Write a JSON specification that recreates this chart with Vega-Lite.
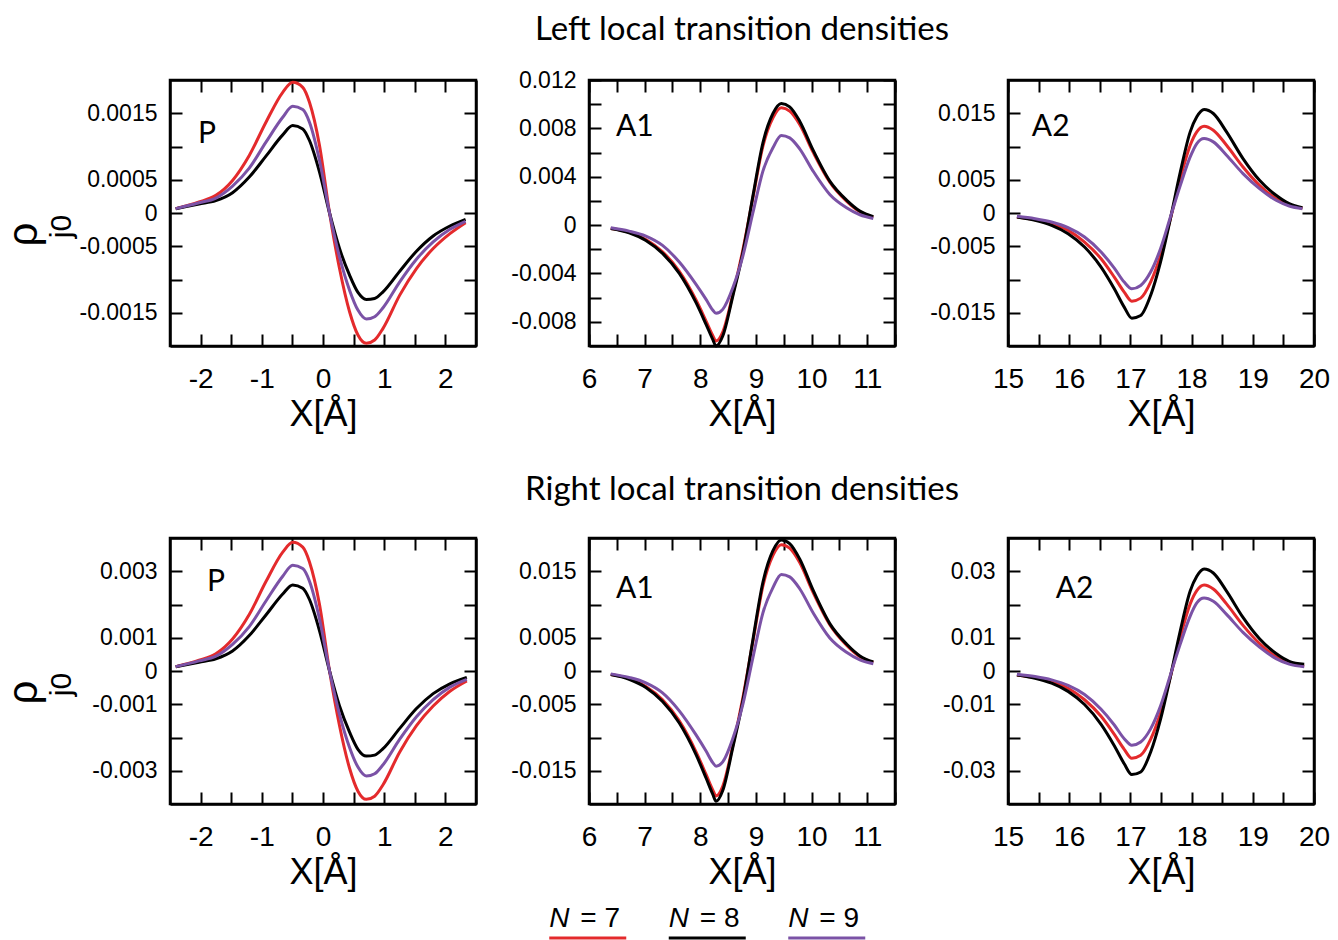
{
  "$schema": "https://vega.github.io/schema/vega-lite/v6.json",
  "background": "white",
  "padding": {"left": 0, "top": 12, "right": 0, "bottom": 0},
  "config": {
    "view": {"stroke": "black", "strokeWidth": 2.5},
    "axis": {"domainColor": "black", "domainWidth": 2.5, "tickColor": "black", "tickWidth": 2, "tickSize": -12, "grid": false,
      "labelFont": "Liberation Sans", "labelColor": "black", "titleFont": "Liberation Sans", "titleColor": "black", "titleFontWeight": "normal",
      "labelOverlap": false, "labelFlush": false, "labelBound": false},
    "axisX": {"labelFontSize": 28, "labelPadding": 31, "titleFontSize": 36, "titleBaseline": "alphabetic", "titleY": 79},
    "axisY": {"labelFontSize": 23, "labelPadding": 25},
    "line": {"interpolate": "monotone", "strokeWidth": 3}
  },
  "datasets": {
    "curves": [
      {"panel":"LP","x":-2.407,"N7":0.000065,"N8":0.000065,"N9":0.000065},
      {"panel":"LP","x":-2.025,"N7":0.000165,"N8":0.000135,"N9":0.000155},
      {"panel":"LP","x":-1.751,"N7":0.000265,"N8":0.000185,"N9":0.000225},
      {"panel":"LP","x":-1.478,"N7":0.00049,"N8":0.000305,"N9":0.000405},
      {"panel":"LP","x":-1.205,"N7":0.000865,"N8":0.00054,"N9":0.000675},
      {"panel":"LP","x":-0.932,"N7":0.001365,"N8":0.000855,"N9":0.001065},
      {"panel":"LP","x":-0.658,"N7":0.001815,"N8":0.001175,"N9":0.00144},
      {"panel":"LP","x":-0.495,"N7":0.001965,"N8":0.001315,"N9":0.001605},
      {"panel":"LP","x":-0.331,"N7":0.00189,"N8":0.001265,"N9":0.001555},
      {"panel":"LP","x":-0.221,"N7":0.001665,"N8":0.00109,"N9":0.001365},
      {"panel":"LP","x":-0.057,"N7":0.001015,"N8":0.000615,"N9":0.00079},
      {"panel":"LP","x":0.107,"N7":0,"N8":0,"N9":0},
      {"panel":"LP","x":0.27,"N7":-0.000835,"N8":-0.000535,"N9":-0.00066},
      {"panel":"LP","x":0.434,"N7":-0.001485,"N8":-0.000935,"N9":-0.00116},
      {"panel":"LP","x":0.571,"N7":-0.001835,"N8":-0.001195,"N9":-0.00146},
      {"panel":"LP","x":0.708,"N7":-0.00196,"N8":-0.0013,"N9":-0.001595},
      {"panel":"LP","x":0.844,"N7":-0.00191,"N8":-0.001285,"N9":-0.00156},
      {"panel":"LP","x":0.981,"N7":-0.001735,"N8":-0.001185,"N9":-0.001425},
      {"panel":"LP","x":1.254,"N7":-0.001235,"N8":-0.000875,"N9":-0.001035},
      {"panel":"LP","x":1.527,"N7":-0.000835,"N8":-0.000575,"N9":-0.000695},
      {"panel":"LP","x":1.8,"N7":-0.000535,"N8":-0.000345,"N9":-0.000435},
      {"panel":"LP","x":2.074,"N7":-0.00031,"N8":-0.000195,"N9":-0.000245},
      {"panel":"LP","x":2.33,"N7":-0.000145,"N8":-0.000095,"N9":-0.000125},

      {"panel":"RP","x":-2.407,"N7":0.00013,"N8":0.00013,"N9":0.00013},
      {"panel":"RP","x":-2.025,"N7":0.000325,"N8":0.000265,"N9":0.000305},
      {"panel":"RP","x":-1.751,"N7":0.00052,"N8":0.000365,"N9":0.000445},
      {"panel":"RP","x":-1.478,"N7":0.000965,"N8":0.0006,"N9":0.0008},
      {"panel":"RP","x":-1.205,"N7":0.0017,"N8":0.001065,"N9":0.001335},
      {"panel":"RP","x":-0.932,"N7":0.00269,"N8":0.001685,"N9":0.002105},
      {"panel":"RP","x":-0.658,"N7":0.003575,"N8":0.002315,"N9":0.00285},
      {"panel":"RP","x":-0.495,"N7":0.00387,"N8":0.00259,"N9":0.00318},
      {"panel":"RP","x":-0.331,"N7":0.003725,"N8":0.00249,"N9":0.00308},
      {"panel":"RP","x":-0.221,"N7":0.00328,"N8":0.00215,"N9":0.0027},
      {"panel":"RP","x":-0.057,"N7":0.002,"N8":0.00121,"N9":0.001565},
      {"panel":"RP","x":0.107,"N7":0,"N8":0,"N9":0},
      {"panel":"RP","x":0.27,"N7":-0.001645,"N8":-0.001055,"N9":-0.001305},
      {"panel":"RP","x":0.434,"N7":-0.002925,"N8":-0.00184,"N9":-0.0023},
      {"panel":"RP","x":0.571,"N7":-0.003615,"N8":-0.002355,"N9":-0.00289},
      {"panel":"RP","x":0.708,"N7":-0.00386,"N8":-0.00256,"N9":-0.00316},
      {"panel":"RP","x":0.844,"N7":-0.003765,"N8":-0.00253,"N9":-0.00309},
      {"panel":"RP","x":0.981,"N7":-0.00342,"N8":-0.002335,"N9":-0.00282},
      {"panel":"RP","x":1.254,"N7":-0.002435,"N8":-0.001725,"N9":-0.00205},
      {"panel":"RP","x":1.527,"N7":-0.001645,"N8":-0.00113,"N9":-0.001375},
      {"panel":"RP","x":1.8,"N7":-0.001055,"N8":-0.00068,"N9":-0.00086},
      {"panel":"RP","x":2.074,"N7":-0.00061,"N8":-0.000385,"N9":-0.000485},
      {"panel":"RP","x":2.35,"N7":-0.0003,"N8":-0.00019,"N9":-0.00025},

      {"panel":"LA1","x":6.391,"N7":-0.000276,"N8":-0.000276,"N9":-0.00022},
      {"panel":"LA1","x":6.721,"N7":-0.000579,"N8":-0.000634,"N9":-0.000496},
      {"panel":"LA1","x":7.022,"N7":-0.001185,"N8":-0.001267,"N9":-0.000909},
      {"panel":"LA1","x":7.322,"N7":-0.002204,"N8":-0.002342,"N9":-0.001681},
      {"panel":"LA1","x":7.623,"N7":-0.003829,"N8":-0.003995,"N9":-0.003058},
      {"panel":"LA1","x":7.924,"N7":-0.006199,"N8":-0.006419,"N9":-0.004904},
      {"panel":"LA1","x":8.104,"N7":-0.007934,"N8":-0.00821,"N9":-0.006144},
      {"panel":"LA1","x":8.224,"N7":-0.009119,"N8":-0.00945,"N9":-0.007025},
      {"panel":"LA1","x":8.284,"N7":-0.009587,"N8":-0.01,"N9":-0.007301},
      {"panel":"LA1","x":8.404,"N7":-0.008844,"N8":-0.009174,"N9":-0.00697},
      {"panel":"LA1","x":8.585,"N7":-0.00573,"N8":-0.005868,"N9":-0.00518},
      {"panel":"LA1","x":8.765,"N7":-0.002066,"N8":-0.002287,"N9":-0.002562},
      {"panel":"LA1","x":8.946,"N7":0.002259,"N8":0.002397,"N9":0.001019},
      {"panel":"LA1","x":9.126,"N7":0.006529,"N8":0.006805,"N9":0.004463},
      {"panel":"LA1","x":9.306,"N7":0.008871,"N8":0.009229,"N9":0.006392},
      {"panel":"LA1","x":9.457,"N7":0.009698,"N8":0.010056,"N9":0.007411},
      {"panel":"LA1","x":9.607,"N7":0.009422,"N8":0.00978,"N9":0.007218},
      {"panel":"LA1","x":9.787,"N7":0.00832,"N8":0.008596,"N9":0.006309},
      {"panel":"LA1","x":10.028,"N7":0.006033,"N8":0.006199,"N9":0.004463},
      {"panel":"LA1","x":10.328,"N7":0.003554,"N8":0.003637,"N9":0.002535},
      {"panel":"LA1","x":10.629,"N7":0.001984,"N8":0.002066,"N9":0.001433},
      {"panel":"LA1","x":10.869,"N7":0.001102,"N8":0.001157,"N9":0.000854},
      {"panel":"LA1","x":11.11,"N7":0.000661,"N8":0.000689,"N9":0.000551},

      {"panel":"RA1","x":6.391,"N7":-0.00054,"N8":-0.00054,"N9":-0.00043},
      {"panel":"RA1","x":6.721,"N7":-0.00113,"N8":-0.00124,"N9":-0.00097},
      {"panel":"RA1","x":7.022,"N7":-0.00232,"N8":-0.00248,"N9":-0.00178},
      {"panel":"RA1","x":7.322,"N7":-0.00432,"N8":-0.00459,"N9":-0.00329},
      {"panel":"RA1","x":7.623,"N7":-0.0075,"N8":-0.00783,"N9":-0.00599},
      {"panel":"RA1","x":7.924,"N7":-0.01215,"N8":-0.01258,"N9":-0.00961},
      {"panel":"RA1","x":8.104,"N7":-0.01555,"N8":-0.01609,"N9":-0.01204},
      {"panel":"RA1","x":8.224,"N7":-0.01787,"N8":-0.01852,"N9":-0.01377},
      {"panel":"RA1","x":8.284,"N7":-0.01879,"N8":-0.0196,"N9":-0.01431},
      {"panel":"RA1","x":8.404,"N7":-0.01733,"N8":-0.01798,"N9":-0.01366},
      {"panel":"RA1","x":8.585,"N7":-0.01123,"N8":-0.0115,"N9":-0.01015},
      {"panel":"RA1","x":8.765,"N7":-0.00405,"N8":-0.00448,"N9":-0.00502},
      {"panel":"RA1","x":8.946,"N7":0.00443,"N8":0.0047,"N9":0.002},
      {"panel":"RA1","x":9.126,"N7":0.0128,"N8":0.01334,"N9":0.00875},
      {"panel":"RA1","x":9.306,"N7":0.01739,"N8":0.01809,"N9":0.01253},
      {"panel":"RA1","x":9.457,"N7":0.019,"N8":0.01971,"N9":0.01453},
      {"panel":"RA1","x":9.607,"N7":0.01847,"N8":0.01917,"N9":0.01415},
      {"panel":"RA1","x":9.787,"N7":0.01631,"N8":0.01685,"N9":0.01237},
      {"panel":"RA1","x":10.028,"N7":0.01182,"N8":0.01215,"N9":0.00875},
      {"panel":"RA1","x":10.328,"N7":0.00697,"N8":0.00713,"N9":0.00497},
      {"panel":"RA1","x":10.629,"N7":0.00389,"N8":0.00405,"N9":0.00281},
      {"panel":"RA1","x":10.869,"N7":0.00216,"N8":0.00227,"N9":0.00167},
      {"panel":"RA1","x":11.11,"N7":0.0013,"N8":0.00135,"N9":0.00108},

      {"panel":"LA2","x":15.146,"N7":-0.000602,"N8":-0.000602,"N9":-0.000502},
      {"panel":"LA2","x":15.442,"N7":-0.001004,"N8":-0.001104,"N9":-0.000853},
      {"panel":"LA2","x":15.712,"N7":-0.001606,"N8":-0.001857,"N9":-0.001355},
      {"panel":"LA2","x":15.982,"N7":-0.00261,"N8":-0.003112,"N9":-0.002209},
      {"panel":"LA2","x":16.251,"N7":-0.004367,"N8":-0.00512,"N9":-0.003614},
      {"panel":"LA2","x":16.521,"N7":-0.006877,"N8":-0.008132,"N9":-0.005873},
      {"panel":"LA2","x":16.737,"N7":-0.009638,"N8":-0.011395,"N9":-0.008283},
      {"panel":"LA2","x":16.899,"N7":-0.011897,"N8":-0.014156,"N9":-0.010391},
      {"panel":"LA2","x":17.023,"N7":-0.013253,"N8":-0.015813,"N9":-0.011395},
      {"panel":"LA2","x":17.168,"N7":-0.012801,"N8":-0.015411,"N9":-0.010893},
      {"panel":"LA2","x":17.33,"N7":-0.010391,"N8":-0.012399,"N9":-0.008885},
      {"panel":"LA2","x":17.492,"N7":-0.006375,"N8":-0.007379,"N9":-0.005371},
      {"panel":"LA2","x":17.654,"N7":-0.000853,"N8":-0.000853,"N9":-0.000602},
      {"panel":"LA2","x":17.816,"N7":0.005171,"N8":0.006175,"N9":0.004167},
      {"panel":"LA2","x":17.977,"N7":0.010191,"N8":0.012199,"N9":0.008434},
      {"panel":"LA2","x":18.085,"N7":0.012199,"N8":0.014458,"N9":0.010442},
      {"panel":"LA2","x":18.204,"N7":0.013052,"N8":0.015562,"N9":0.011195},
      {"panel":"LA2","x":18.355,"N7":0.01245,"N8":0.01496,"N9":0.010693},
      {"panel":"LA2","x":18.571,"N7":0.010191,"N8":0.012199,"N9":0.008685},
      {"panel":"LA2","x":18.84,"N7":0.006928,"N8":0.008183,"N9":0.005924},
      {"panel":"LA2","x":19.11,"N7":0.004167,"N8":0.00492,"N9":0.003665},
      {"panel":"LA2","x":19.38,"N7":0.002159,"N8":0.002661,"N9":0.001908},
      {"panel":"LA2","x":19.595,"N7":0.001155,"N8":0.001406,"N9":0.001054},
      {"panel":"LA2","x":19.811,"N7":0.000753,"N8":0.000803,"N9":0.000653},

      {"panel":"RA2","x":15.146,"N7":-0.00119,"N8":-0.00119,"N9":-0.00098},
      {"panel":"RA2","x":15.442,"N7":-0.00199,"N8":-0.00217,"N9":-0.00167},
      {"panel":"RA2","x":15.712,"N7":-0.00318,"N8":-0.00366,"N9":-0.00266},
      {"panel":"RA2","x":15.982,"N7":-0.00517,"N8":-0.00613,"N9":-0.00433},
      {"panel":"RA2","x":16.251,"N7":-0.00865,"N8":-0.01009,"N9":-0.00708},
      {"panel":"RA2","x":16.521,"N7":-0.01362,"N8":-0.01602,"N9":-0.01151},
      {"panel":"RA2","x":16.737,"N7":-0.01908,"N8":-0.02245,"N9":-0.01623},
      {"panel":"RA2","x":16.899,"N7":-0.02356,"N8":-0.02789,"N9":-0.02037},
      {"panel":"RA2","x":17.023,"N7":-0.02624,"N8":-0.03115,"N9":-0.02233},
      {"panel":"RA2","x":17.168,"N7":-0.02535,"N8":-0.03036,"N9":-0.02135},
      {"panel":"RA2","x":17.33,"N7":-0.02057,"N8":-0.02443,"N9":-0.01741},
      {"panel":"RA2","x":17.492,"N7":-0.01262,"N8":-0.01454,"N9":-0.01053},
      {"panel":"RA2","x":17.654,"N7":-0.00169,"N8":-0.00168,"N9":-0.00118},
      {"panel":"RA2","x":17.816,"N7":0.01024,"N8":0.01216,"N9":0.00817},
      {"panel":"RA2","x":17.977,"N7":0.02018,"N8":0.02403,"N9":0.01653},
      {"panel":"RA2","x":18.085,"N7":0.02415,"N8":0.02848,"N9":0.02047},
      {"panel":"RA2","x":18.204,"N7":0.02584,"N8":0.03066,"N9":0.02194},
      {"panel":"RA2","x":18.355,"N7":0.02465,"N8":0.02947,"N9":0.02096},
      {"panel":"RA2","x":18.571,"N7":0.02018,"N8":0.02403,"N9":0.01702},
      {"panel":"RA2","x":18.84,"N7":0.01372,"N8":0.01612,"N9":0.01161},
      {"panel":"RA2","x":19.11,"N7":0.00825,"N8":0.00969,"N9":0.00718},
      {"panel":"RA2","x":19.38,"N7":0.00427,"N8":0.00524,"N9":0.00374},
      {"panel":"RA2","x":19.595,"N7":0.00229,"N8":0.0029,"N9":0.00207},
      {"panel":"RA2","x":19.84,"N7":0.00149,"N8":0.002,"N9":0.00128}
    ]
  },
  "resolve": {"scale": {"x": "independent", "y": "independent"}},
  "spacing": 13,
  "vconcat": [
    {
      "columns": 3,
      "bounds": "flush",
      "spacing": {"row": 192, "column": 113},
      "resolve": {"scale": {"x": "independent", "y": "independent"}},
      "concat": [
        {
          "width": 306, "height": 266,
          "data": {"name": "curves"},
          "transform": [{"filter": "datum.panel == 'LP'"}, {"fold": ["N7", "N8", "N9"], "as": ["N", "rho"]}],
          "layer": [
            {"mark": {"type": "line"},
             "encoding": {
               "x": {"field": "x", "type": "quantitative", "scale": {"domain": [-2.5, 2.5], "nice": false, "zero": false},
                     "axis": {"orient": "bottom", "values": [-2,-1.5,-1,-0.5,0,0.5,1,1.5,2], "labelExpr": "datum.value % 1 == 0 ? (datum.value < 0 ? '-' : '') + format(abs(datum.value), 'd') : ''", "title": "X[Å]"}},
               "y": {"field": "rho", "type": "quantitative", "scale": {"domain": [-0.002, 0.002], "nice": false, "zero": false},
                     "axis": {"orient": "left", "values": [-0.0015,-0.001,-0.0005,0,0.0005,0.001,0.0015], "labelExpr": "abs(abs(datum.value) - 0.001) < 0.00001 ? '' : (datum.value < 0 ? '-' : '') + format(abs(datum.value), '~g')",
                              "title": "ρ", "titleFontSize": 42, "titleAngle": -90, "titleAlign": "center", "titleBaseline": "alphabetic", "titleX": -134, "titleY": 154}},
               "color": {"field": "N", "type": "nominal", "scale": {"domain": ["N7", "N8", "N9"], "range": ["#e42a2c", "#000000", "#7b52a6"]}, "legend": null}
             }},
            {"mark": {"type": "line", "opacity": 0},
             "encoding": {
               "x": {"field": "x", "type": "quantitative", "scale": {"domain": [-2.5, 2.5], "nice": false, "zero": false},
                     "axis": {"orient": "top", "values": [-2,-1.5,-1,-0.5,0,0.5,1,1.5,2], "labels": false,
                              "title": "j0", "titleFontSize": 30, "titleAngle": -90, "titleAlign": "center", "titleBaseline": "alphabetic", "titleX": -100, "titleY": 146}},
               "y": {"field": "rho", "type": "quantitative", "scale": {"domain": [-0.002, 0.002], "nice": false, "zero": false},
                     "axis": {"orient": "right", "values": [-0.0015,-0.001,-0.0005,0,0.0005,0.001,0.0015], "labels": false, "title": null}}
             }},
            {"data": {"values": [{}]},
             "mark": {"type": "text", "font": "Lato", "fontSize": 30, "align": "left", "baseline": "alphabetic", "color": "black"},
             "encoding": {
               "x": {"datum": -2.042, "type": "quantitative", "axis": null},
               "y": {"datum": 0.00105, "type": "quantitative", "axis": null},
               "text": {"value": "P"}
             }}
          ],
          "resolve": {"axis": {"x": "independent", "y": "independent"}}
        },
        {
          "width": 306, "height": 266,
          "title": {"text": "Left local transition densities", "font": "Lato", "fontSize": 33, "fontWeight": "normal", "anchor": "middle", "frame": "group", "baseline": "alphabetic", "offset": -4, "color": "black"},
          "data": {"name": "curves"},
          "transform": [{"filter": "datum.panel == 'LA1'"}, {"fold": ["N7", "N8", "N9"], "as": ["N", "rho"]}],
          "layer": [
            {"mark": {"type": "line"},
             "encoding": {
               "x": {"field": "x", "type": "quantitative", "scale": {"domain": [6, 11.5], "nice": false, "zero": false},
                     "axis": {"orient": "bottom", "values": [6,6.5,7,7.5,8,8.5,9,9.5,10,10.5,11,11.5], "labelExpr": "datum.value % 1 == 0 ? (datum.value < 0 ? '-' : '') + format(abs(datum.value), 'd') : ''", "title": "X[Å]"}},
               "y": {"field": "rho", "type": "quantitative", "scale": {"domain": [-0.01, 0.012], "nice": false, "zero": false},
                     "axis": {"orient": "left", "values": [-0.008,-0.006,-0.004,-0.002,0,0.002,0.004,0.006,0.008,0.01,0.012], "labelExpr": "abs(datum.value / 0.004 - round(datum.value / 0.004)) < 0.01 ? (datum.value < 0 ? '-' : '') + format(abs(datum.value), '~g') : ''", "title": null}},
               "color": {"field": "N", "type": "nominal", "scale": {"domain": ["N7", "N8", "N9"], "range": ["#e42a2c", "#000000", "#7b52a6"]}, "legend": null}
             }},
            {"mark": {"type": "line", "opacity": 0},
             "encoding": {
               "x": {"field": "x", "type": "quantitative", "scale": {"domain": [6, 11.5], "nice": false, "zero": false},
                     "axis": {"orient": "top", "values": [6,6.5,7,7.5,8,8.5,9,9.5,10,10.5,11,11.5], "labels": false, "title": null}},
               "y": {"field": "rho", "type": "quantitative", "scale": {"domain": [-0.01, 0.012], "nice": false, "zero": false},
                     "axis": {"orient": "right", "values": [-0.008,-0.006,-0.004,-0.002,0,0.002,0.004,0.006,0.008,0.01,0.012], "labels": false, "title": null}}
             }},
            {"data": {"values": [{}]},
             "mark": {"type": "text", "font": "Lato", "fontSize": 30, "align": "left", "baseline": "alphabetic", "color": "black"},
             "encoding": {
               "x": {"datum": 6.485, "type": "quantitative", "axis": null},
               "y": {"datum": 0.00737, "type": "quantitative", "axis": null},
               "text": {"value": "A1"}
             }}
          ],
          "resolve": {"axis": {"x": "independent", "y": "independent"}}
        },
        {
          "width": 306, "height": 266,
          "data": {"name": "curves"},
          "transform": [{"filter": "datum.panel == 'LA2'"}, {"fold": ["N7", "N8", "N9"], "as": ["N", "rho"]}],
          "layer": [
            {"mark": {"type": "line"},
             "encoding": {
               "x": {"field": "x", "type": "quantitative", "scale": {"domain": [15, 20], "nice": false, "zero": false},
                     "axis": {"orient": "bottom", "values": [15,15.5,16,16.5,17,17.5,18,18.5,19,19.5,20], "labelExpr": "datum.value % 1 == 0 ? (datum.value < 0 ? '-' : '') + format(abs(datum.value), 'd') : ''", "title": "X[Å]"}},
               "y": {"field": "rho", "type": "quantitative", "scale": {"domain": [-0.02, 0.02], "nice": false, "zero": false},
                     "axis": {"orient": "left", "values": [-0.015,-0.01,-0.005,0,0.005,0.01,0.015], "labelExpr": "abs(abs(datum.value) - 0.01) < 0.0001 ? '' : (datum.value < 0 ? '-' : '') + format(abs(datum.value), '~g')", "title": null}},
               "color": {"field": "N", "type": "nominal", "scale": {"domain": ["N7", "N8", "N9"], "range": ["#e42a2c", "#000000", "#7b52a6"]}, "legend": null}
             }},
            {"mark": {"type": "line", "opacity": 0},
             "encoding": {
               "x": {"field": "x", "type": "quantitative", "scale": {"domain": [15, 20], "nice": false, "zero": false},
                     "axis": {"orient": "top", "values": [15,15.5,16,16.5,17,17.5,18,18.5,19,19.5,20], "labels": false, "title": null}},
               "y": {"field": "rho", "type": "quantitative", "scale": {"domain": [-0.02, 0.02], "nice": false, "zero": false},
                     "axis": {"orient": "right", "values": [-0.015,-0.01,-0.005,0,0.005,0.01,0.015], "labels": false, "title": null}}
             }},
            {"data": {"values": [{}]},
             "mark": {"type": "text", "font": "Lato", "fontSize": 30, "align": "left", "baseline": "alphabetic", "color": "black"},
             "encoding": {
               "x": {"datum": 15.39, "type": "quantitative", "axis": null},
               "y": {"datum": 0.01158, "type": "quantitative", "axis": null},
               "text": {"value": "A2"}
             }}
          ],
          "resolve": {"axis": {"x": "independent", "y": "independent"}}
        },
        {
          "width": 306, "height": 266,
          "data": {"name": "curves"},
          "transform": [{"filter": "datum.panel == 'RP'"}, {"fold": ["N7", "N8", "N9"], "as": ["N", "rho"]}],
          "layer": [
            {"mark": {"type": "line"},
             "encoding": {
               "x": {"field": "x", "type": "quantitative", "scale": {"domain": [-2.5, 2.5], "nice": false, "zero": false},
                     "axis": {"orient": "bottom", "values": [-2,-1.5,-1,-0.5,0,0.5,1,1.5,2], "labelExpr": "datum.value % 1 == 0 ? (datum.value < 0 ? '-' : '') + format(abs(datum.value), 'd') : ''", "title": "X[Å]"}},
               "y": {"field": "rho", "type": "quantitative", "scale": {"domain": [-0.004, 0.004], "nice": false, "zero": false},
                     "axis": {"orient": "left", "values": [-0.003,-0.002,-0.001,0,0.001,0.002,0.003], "labelExpr": "abs(abs(datum.value) - 0.002) < 0.00001 ? '' : (datum.value < 0 ? '-' : '') + format(abs(datum.value), '~g')",
                              "title": "ρ", "titleFontSize": 42, "titleAngle": -90, "titleAlign": "center", "titleBaseline": "alphabetic", "titleX": -134, "titleY": 154}},
               "color": {"field": "N", "type": "nominal", "scale": {"domain": ["N7", "N8", "N9"], "range": ["#e42a2c", "#000000", "#7b52a6"]}, "legend": null}
             }},
            {"mark": {"type": "line", "opacity": 0},
             "encoding": {
               "x": {"field": "x", "type": "quantitative", "scale": {"domain": [-2.5, 2.5], "nice": false, "zero": false},
                     "axis": {"orient": "top", "values": [-2,-1.5,-1,-0.5,0,0.5,1,1.5,2], "labels": false,
                              "title": "j0", "titleFontSize": 30, "titleAngle": -90, "titleAlign": "center", "titleBaseline": "alphabetic", "titleX": -100, "titleY": 146}},
               "y": {"field": "rho", "type": "quantitative", "scale": {"domain": [-0.004, 0.004], "nice": false, "zero": false},
                     "axis": {"orient": "right", "values": [-0.003,-0.002,-0.001,0,0.001,0.002,0.003], "labels": false, "title": null}}
             }},
            {"data": {"values": [{}]},
             "mark": {"type": "text", "font": "Lato", "fontSize": 30, "align": "left", "baseline": "alphabetic", "color": "black"},
             "encoding": {
               "x": {"datum": -1.895, "type": "quantitative", "axis": null},
               "y": {"datum": 0.00241, "type": "quantitative", "axis": null},
               "text": {"value": "P"}
             }}
          ],
          "resolve": {"axis": {"x": "independent", "y": "independent"}}
        },
        {
          "width": 306, "height": 266,
          "title": {"text": "Right local transition densities", "font": "Lato", "fontSize": 33, "fontWeight": "normal", "anchor": "middle", "frame": "group", "baseline": "alphabetic", "offset": 1, "color": "black"},
          "data": {"name": "curves"},
          "transform": [{"filter": "datum.panel == 'RA1'"}, {"fold": ["N7", "N8", "N9"], "as": ["N", "rho"]}],
          "layer": [
            {"mark": {"type": "line"},
             "encoding": {
               "x": {"field": "x", "type": "quantitative", "scale": {"domain": [6, 11.5], "nice": false, "zero": false},
                     "axis": {"orient": "bottom", "values": [6,6.5,7,7.5,8,8.5,9,9.5,10,10.5,11,11.5], "labelExpr": "datum.value % 1 == 0 ? (datum.value < 0 ? '-' : '') + format(abs(datum.value), 'd') : ''", "title": "X[Å]"}},
               "y": {"field": "rho", "type": "quantitative", "scale": {"domain": [-0.02, 0.02], "nice": false, "zero": false},
                     "axis": {"orient": "left", "values": [-0.015,-0.01,-0.005,0,0.005,0.01,0.015], "labelExpr": "abs(abs(datum.value) - 0.01) < 0.0001 ? '' : (datum.value < 0 ? '-' : '') + format(abs(datum.value), '~g')", "title": null}},
               "color": {"field": "N", "type": "nominal", "scale": {"domain": ["N7", "N8", "N9"], "range": ["#e42a2c", "#000000", "#7b52a6"]}, "legend": null}
             }},
            {"mark": {"type": "line", "opacity": 0},
             "encoding": {
               "x": {"field": "x", "type": "quantitative", "scale": {"domain": [6, 11.5], "nice": false, "zero": false},
                     "axis": {"orient": "top", "values": [6,6.5,7,7.5,8,8.5,9,9.5,10,10.5,11,11.5], "labels": false, "title": null}},
               "y": {"field": "rho", "type": "quantitative", "scale": {"domain": [-0.02, 0.02], "nice": false, "zero": false},
                     "axis": {"orient": "right", "values": [-0.015,-0.01,-0.005,0,0.005,0.01,0.015], "labels": false, "title": null}}
             }},
            {"data": {"values": [{}]},
             "mark": {"type": "text", "font": "Lato", "fontSize": 30, "align": "left", "baseline": "alphabetic", "color": "black"},
             "encoding": {
               "x": {"datum": 6.485, "type": "quantitative", "axis": null},
               "y": {"datum": 0.01098, "type": "quantitative", "axis": null},
               "text": {"value": "A1"}
             }}
          ],
          "resolve": {"axis": {"x": "independent", "y": "independent"}}
        },
        {
          "width": 306, "height": 266,
          "data": {"name": "curves"},
          "transform": [{"filter": "datum.panel == 'RA2'"}, {"fold": ["N7", "N8", "N9"], "as": ["N", "rho"]}],
          "layer": [
            {"mark": {"type": "line"},
             "encoding": {
               "x": {"field": "x", "type": "quantitative", "scale": {"domain": [15, 20], "nice": false, "zero": false},
                     "axis": {"orient": "bottom", "values": [15,15.5,16,16.5,17,17.5,18,18.5,19,19.5,20], "labelExpr": "datum.value % 1 == 0 ? (datum.value < 0 ? '-' : '') + format(abs(datum.value), 'd') : ''", "title": "X[Å]"}},
               "y": {"field": "rho", "type": "quantitative", "scale": {"domain": [-0.04, 0.04], "nice": false, "zero": false},
                     "axis": {"orient": "left", "values": [-0.03,-0.02,-0.01,0,0.01,0.02,0.03], "labelExpr": "abs(abs(datum.value) - 0.02) < 0.0001 ? '' : (datum.value < 0 ? '-' : '') + format(abs(datum.value), '~g')", "title": null}},
               "color": {"field": "N", "type": "nominal", "scale": {"domain": ["N7", "N8", "N9"], "range": ["#e42a2c", "#000000", "#7b52a6"]}, "legend": null}
             }},
            {"mark": {"type": "line", "opacity": 0},
             "encoding": {
               "x": {"field": "x", "type": "quantitative", "scale": {"domain": [15, 20], "nice": false, "zero": false},
                     "axis": {"orient": "top", "values": [15,15.5,16,16.5,17,17.5,18,18.5,19,19.5,20], "labels": false, "title": null}},
               "y": {"field": "rho", "type": "quantitative", "scale": {"domain": [-0.04, 0.04], "nice": false, "zero": false},
                     "axis": {"orient": "right", "values": [-0.03,-0.02,-0.01,0,0.01,0.02,0.03], "labels": false, "title": null}}
             }},
            {"data": {"values": [{}]},
             "mark": {"type": "text", "font": "Lato", "fontSize": 30, "align": "left", "baseline": "alphabetic", "color": "black"},
             "encoding": {
               "x": {"datum": 15.78, "type": "quantitative", "axis": null},
               "y": {"datum": 0.02195, "type": "quantitative", "axis": null},
               "text": {"value": "A2"}
             }}
          ],
          "resolve": {"axis": {"x": "independent", "y": "independent"}}
        }
      ]
    },
    {
      "width": 717, "height": 11,
      "view": {"stroke": null},
      "data": {"values": [{"N": "N7", "rest": "= 7"}, {"N": "N8", "rest": "= 8"}, {"N": "N9", "rest": "= 9"}]},
      "layer": [
        {"mark": {"type": "text", "text": "N", "font": "Liberation Sans", "fontSize": 28, "fontStyle": "italic", "align": "left", "baseline": "alphabetic", "dx": -39, "color": "black"},
         "encoding": {
           "x": {"field": "N", "type": "nominal", "scale": {"type": "point", "domain": ["a", "b", "c", "N7", "N8", "N9"], "padding": 0.5}, "axis": null},
           "y": {"datum": "t", "type": "nominal", "scale": {"type": "point", "domain": ["t", "r"], "padding": 0}, "axis": null}
         }},
        {"mark": {"type": "text", "font": "Liberation Sans", "fontSize": 28, "align": "left", "baseline": "alphabetic", "dx": -8, "color": "black"},
         "encoding": {
           "x": {"field": "N", "type": "nominal", "scale": {"type": "point", "domain": ["a", "b", "c", "N7", "N8", "N9"], "padding": 0.5}, "axis": null},
           "y": {"datum": "t", "type": "nominal", "scale": {"type": "point", "domain": ["t", "r"], "padding": 0}, "axis": null},
           "text": {"field": "rest"}
         }},
        {"mark": {"type": "rule", "strokeWidth": 3, "xOffset": -39, "x2Offset": 38},
         "encoding": {
           "x": {"field": "N", "type": "nominal", "scale": {"type": "point", "domain": ["a", "b", "c", "N7", "N8", "N9"], "padding": 0.5}, "axis": null},
           "x2": {"field": "N"},
           "y": {"datum": "r", "type": "nominal", "scale": {"type": "point", "domain": ["t", "r"], "padding": 0}, "axis": null},
           "color": {"field": "N", "type": "nominal", "scale": {"domain": ["N7", "N8", "N9"], "range": ["#e42a2c", "#000000", "#7b52a6"]}, "legend": null}
         }}
      ]
    }
  ]
}
